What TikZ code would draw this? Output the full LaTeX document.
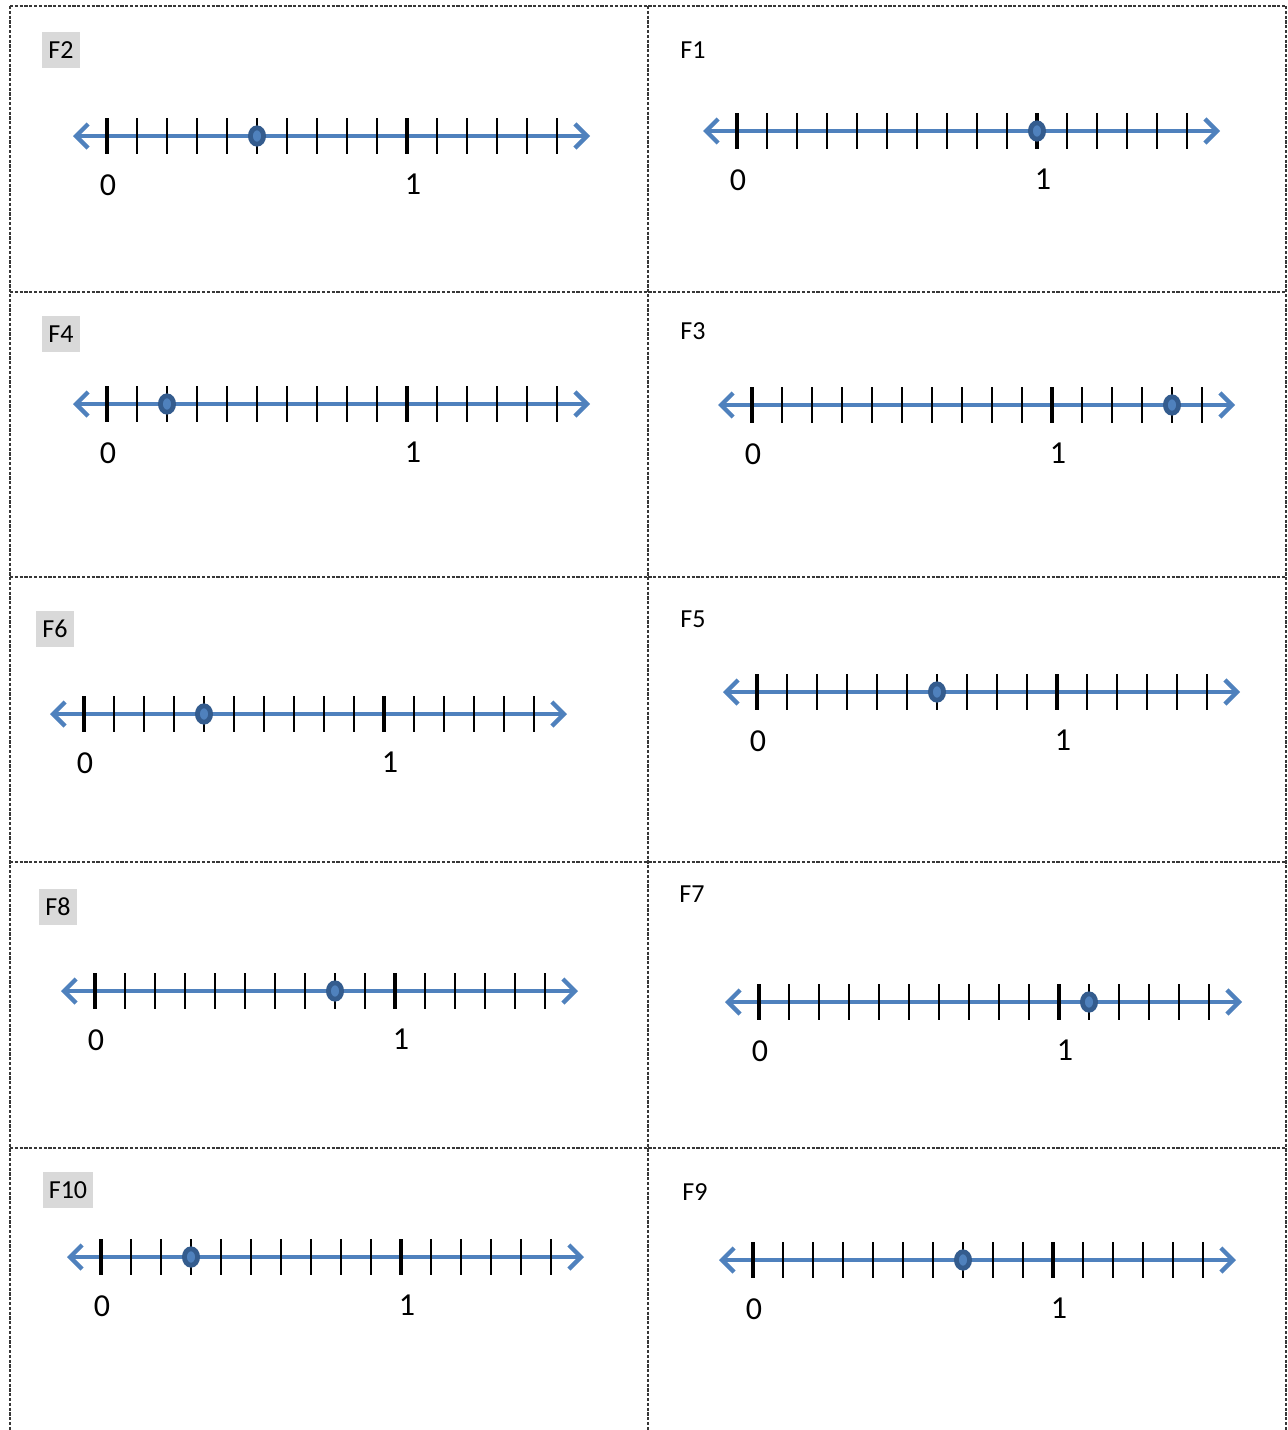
\documentclass[tikz,border=0pt]{standalone}
\usepackage{fontspec}
\setmainfont{Carlito}
\usetikzlibrary{arrows.meta,shapes.geometric}

\definecolor{lineblue}{RGB}{79,129,189}
\definecolor{dotblue}{RGB}{52,92,142}
\definecolor{cellgrid}{RGB}{55,55,55}
\definecolor{tagfill}{RGB}{217,217,217}

\begin{document}
\begin{tikzpicture}[
  x=0.5pt, y=-0.5pt,
  grid/.style={cellgrid, line width=0.6pt, dash pattern=on 1.6pt off 0.8pt},
  axis/.style={lineblue, line width=1.8pt,
               {Straight Barb[length=6pt,width=12pt,line width=2.2pt]}-{Straight Barb[length=6pt,width=12pt,line width=2.2pt]}},
  tick/.style={black, line width=0.9pt},
  bigtick/.style={black, line width=2.2pt},
  dot/.style={ellipse, draw=dotblue, fill=lineblue, line width=2.4pt,
              minimum width=6.6pt, minimum height=8.2pt, inner sep=0pt},
  num/.style={font=\fontsize{16}{18}\selectfont, inner sep=0pt},
  tag/.style={font=\fontsize{13}{15}\selectfont, inner sep=0pt},
  graytag/.style={tag, fill=tagfill, inner xsep=3pt, minimum height=18pt},
]
\useasboundingbox (0,0) rectangle (1288,1430);

% cell grid (open at the bottom)
\draw[grid] (10,6) -- (1286,6);
\foreach \gy in {292,577,862,1148}
  \draw[grid] (10,\gy) -- (1286,\gy);
\foreach \gx in {10,648,1286}
  \draw[grid] (\gx,6) -- (\gx,1430);

% card tags
\node[graytag] (tag-F2)  at (61,50)    {F2};
\node[graytag] (tag-F4)  at (61,334)   {F4};
\node[graytag] (tag-F6)  at (55,629)   {F6};
\node[graytag] (tag-F8)  at (58,907)   {F8};
\node[graytag] (tag-F10) at (68,1190)  {F10};
\node[tag] (tag-F1) at (693,50)   {F1};
\node[tag] (tag-F3) at (693,331)  {F3};
\node[tag] (tag-F5) at (693,619)  {F5};
\node[tag] (tag-F7) at (692,894)  {F7};
\node[tag] (tag-F9) at (695,1192) {F9};

% number lines: name / x of 0 / y / tick of the dot
\foreach \nm/\xo/\yo/\dt in {F2/107/136/5, F1/737/131/10, F4/107/404/2,
    F3/752/405/14, F6/84/714/4, F5/757/692/6, F8/95/991/8,
    F7/759/1002/11, F10/101/1257/3, F9/753/1260/7} {
  \coordinate (\nm-l) at (\xo-34,\yo);
  \coordinate (\nm-r) at (\xo+483,\yo);
  \draw[axis] (\nm-l) -- (\nm-r);
  \foreach \k in {1,...,9,11,12,13,14,15}
    \draw[tick] (\xo+30*\k,\yo-18) -- (\xo+30*\k,\yo+18);
  \draw[bigtick] (\xo,\yo-18) -- (\xo,\yo+18);
  \draw[bigtick] (\xo+300,\yo-18) -- (\xo+300,\yo+18);
  \node[dot] (\nm-dot) at (\xo+30*\dt,\yo) {};
  \node[num] (\nm-zero) at (\xo+1,\yo+49) {0};
  \node[num] (\nm-one) at (\xo+306,\yo+48) {1};
}
\end{tikzpicture}
\end{document}
